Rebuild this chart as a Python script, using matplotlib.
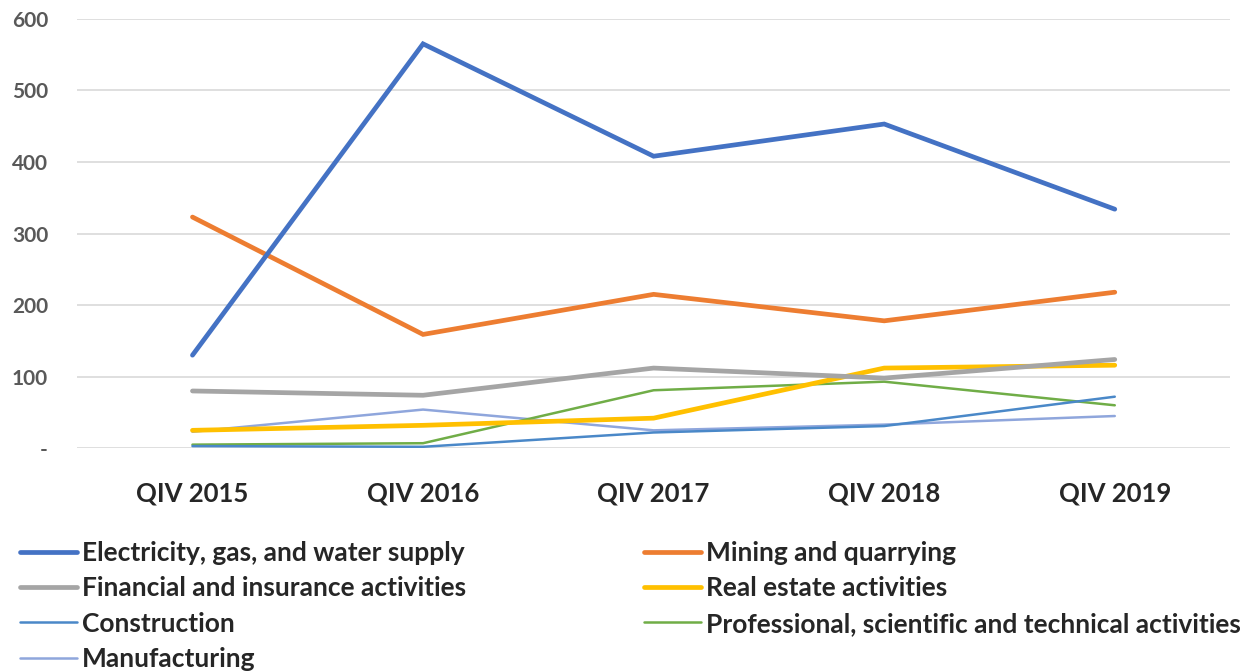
import matplotlib
matplotlib.use("Agg")
from matplotlib import pyplot as plt

plt.rcParams['font.family'] = ['Lato', 'DejaVu Sans']

quarters = ["QIV 2015", "QIV 2016", "QIV 2017", "QIV 2018", "QIV 2019"]

electricity = [130, 565, 408, 453, 334]
mining = [323, 159, 215, 178, 218]
financial = [80, 74, 112, 98, 124]
real_estate = [25, 32, 42, 112, 116]
construction = [3, 2, 22, 31, 72]
professional = [5, 7, 81, 93, 60]
manufacturing = [23, 54, 25, 33, 45]

series = [
    ("Electricity, gas, and water supply", electricity, "#4472C4", 3.4),
    ("Mining and quarrying", mining, "#ED7D31", 3.4),
    ("Financial and insurance activities", financial, "#A5A5A5", 3.4),
    ("Real estate activities", real_estate, "#FFC000", 3.4),
    ("Construction", construction, "#4A88C8", 1.8),
    ("Professional, scientific and technical activities", professional, "#70AD47", 1.8),
    ("Manufacturing", manufacturing, "#8FA6DC", 1.8),
]

fig = plt.figure(figsize=(12.45, 6.72), dpi=100)
ax = fig.add_axes([0.062, 0.333, 0.926, 0.639])

xs = list(range(len(quarters)))
lines = {}
# thin ones first so the thick ones sit on top
for name, vals, col, lw in series[::-1]:
    ln, = ax.plot(xs, vals, color=col, linewidth=lw, solid_capstyle='round',
                  solid_joinstyle='miter', label=name)
    lines[name] = ln

ax.set_xlim(-0.5, 4.5)
ax.set_ylim(0, 600)
ax.set_yticks(range(0, 601, 100))
ax.set_yticklabels(["-"] + [str(v) for v in range(100, 601, 100)])
ax.set_xticks(xs)
ax.set_xticklabels(quarters)
ax.grid(axis='y', color='#D9D9D9', linewidth=1.2)
ax.set_axisbelow(True)
for s in ax.spines.values():
    s.set_visible(False)
ax.tick_params(length=0)
ax.tick_params(axis='y', labelsize=15, labelcolor='#595959', pad=21)
ax.tick_params(axis='x', labelsize=18.5, labelcolor='#262626', pad=24)
for lab in ax.get_xticklabels() + ax.get_yticklabels():
    lab.set_fontweight('bold')

# picture reads row-wise, matplotlib fills column-wise
order = [0, 2, 4, 6, 1, 3, 5]
hs = [lines[series[i][0]] for i in order]
ls = [series[i][0] for i in order]
leg = fig.legend(hs, ls, loc='upper left', bbox_to_anchor=(0.016, 0.195), ncol=2,
                 frameon=False, fontsize=19, handlelength=2.16, handletextpad=0.19,
                 columnspacing=6.75, labelspacing=0.43, borderpad=0, borderaxespad=0)
for t in leg.get_texts():
    t.set_color('#262626')
    t.set_fontweight('bold')

fig.savefig("out.png", dpi=100, facecolor='white')
